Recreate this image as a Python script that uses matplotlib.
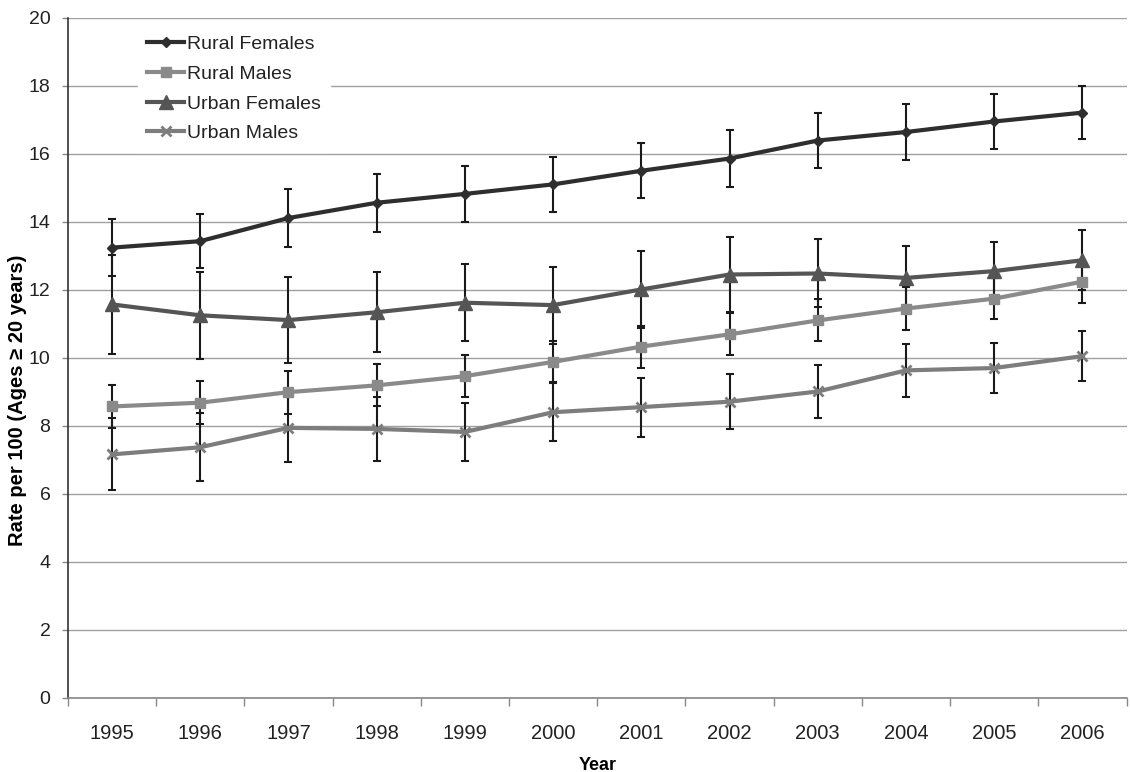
import matplotlib
matplotlib.use("Agg")
import matplotlib.pyplot as plt
import numpy as np

plt.rcParams['font.family'] = ['Liberation Sans', 'DejaVu Sans']

years = ["1995", "1996", "1997", "1998", "1999", "2000", "2001", "2002", "2003", "2004", "2005", "2006"]

rural_females = [13.24, 13.43, 14.11, 14.56, 14.82, 15.10, 15.50, 15.86, 16.39, 16.64, 16.95, 17.21]
rural_females_err = [0.84, 0.80, 0.84, 0.85, 0.82, 0.82, 0.81, 0.83, 0.82, 0.81, 0.80, 0.79]

rural_males = [8.57, 8.68, 8.99, 9.19, 9.46, 9.88, 10.33, 10.69, 11.10, 11.45, 11.74, 12.24]
rural_males_err = [0.63, 0.63, 0.63, 0.62, 0.61, 0.60, 0.62, 0.62, 0.62, 0.62, 0.60, 0.62]

urban_females = [11.57, 11.25, 11.11, 11.34, 11.62, 11.55, 12.01, 12.45, 12.48, 12.35, 12.55, 12.87]
urban_females_err = [1.45, 1.28, 1.26, 1.17, 1.14, 1.13, 1.12, 1.10, 1.00, 0.93, 0.87, 0.88]

urban_males = [7.16, 7.37, 7.94, 7.91, 7.82, 8.40, 8.55, 8.71, 9.01, 9.63, 9.70, 10.05]
urban_males_err = [1.06, 1.00, 0.99, 0.95, 0.86, 0.86, 0.87, 0.81, 0.78, 0.77, 0.74, 0.73]

fig = plt.figure(figsize=(11.3, 7.72), dpi=100)
ax = fig.add_axes([0.060, 0.096, 0.937, 0.881])

x = np.arange(len(years))

series = [
    ("Rural Females", rural_females, rural_females_err, "#2e2e2e", "D", 5.5),
    ("Rural Males", rural_males, rural_males_err, "#8a8a8a", "s", 7),
    ("Urban Females", urban_females, urban_females_err, "#555555", "^", 10.5),
    ("Urban Males", urban_males, urban_males_err, "#7d7d7d", "x", 7),
]

handles = []
for name, vals, err, col, mk, ms in series:
    ax.errorbar(x, vals, yerr=err, fmt='none', ecolor="#1a1a1a", elinewidth=1.5,
                capsize=3, capthick=1.5, zorder=3)
for name, vals, err, col, mk, ms in series:
    h, = ax.plot(x, vals, color=col, lw=3, marker=mk, markersize=ms,
                 markeredgecolor=col, markerfacecolor=col,
                 markeredgewidth=2 if mk == 'x' else 1,
                 label=name, zorder=4)
    handles.append(h)

ax.set_xlim(-0.5, len(years) - 0.5)
ax.set_ylim(0, 20)
ax.set_yticks(np.arange(0, 21, 2))
ax.set_xticks(x)
ax.set_xticklabels(years)
ax.set_xticks(np.arange(-0.5, len(years) + 0.5, 1), minor=True)
ax.tick_params(axis='x', which='major', length=0, pad=19, labelsize=14.5, colors="#222222")
ax.tick_params(axis='x', which='minor', length=6, width=1, color="#888888")
ax.tick_params(axis='y', length=4.5, width=1, color="#888888", labelsize=14,
               labelcolor="#222222", pad=8)

ax.yaxis.grid(True, color="#a0a0a0", lw=1)
ax.set_axisbelow(True)
for s in ["top", "right"]:
    ax.spines[s].set_visible(False)
ax.spines["left"].set_color("#333333")
ax.spines["left"].set_linewidth(1.2)
ax.spines["bottom"].set_color("#888888")
ax.spines["bottom"].set_linewidth(1.2)

ax.set_xlabel("Year", fontsize=13, fontweight='bold', labelpad=10)
ax.set_ylabel("Rate per 100 (Ages \u2265 20 years)", fontsize=14.5, fontweight='bold')
ax.yaxis.set_label_coords(-0.0385, 0.438)

leg = ax.legend(handles=handles, loc='upper left', bbox_to_anchor=(0.066, 0.988),
                borderaxespad=0, frameon=True,
                fontsize=14, handlelength=1.9, handletextpad=0.12, labelspacing=0.62,
                borderpad=0.5, fancybox=False)
leg.get_frame().set_edgecolor('white')
leg.get_frame().set_facecolor('white')
leg.get_frame().set_alpha(1)
for t in leg.get_texts():
    t.set_color("#222222")

fig.savefig("out.png", dpi=100, facecolor='white')
